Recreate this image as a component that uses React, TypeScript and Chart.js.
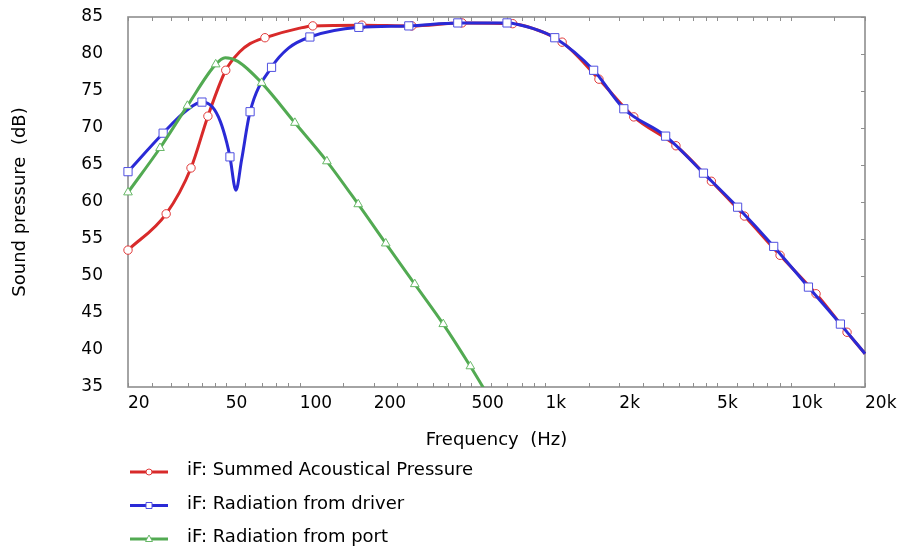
import { useEffect, useRef } from "react";
import { Chart, registerables } from "chart.js";

Chart.register(...registerables);

// ---- Data (frequency in Hz, level in dB) ----
const summedFreq = [20, 28.6, 36.1, 42.3, 50, 57, 62.8, 72.2, 100, 113, 179, 286, 458, 736, 900, 1170, 1652, 2290, 3400, 4740, 6460, 9020, 12640, 16900, 20000];
const summedDb = [53.5, 58.4, 64.6, 71.6, 77.8, 80.3, 81.4, 82.2, 83.5, 83.8, 83.9, 83.8, 84.2, 84.1, 83.4, 81.6, 76.6, 71.5, 67.6, 62.8, 58.1, 52.8, 47.6, 42.4, 39.5];
const summedMarkerFreq = [20, 28.6, 36.1, 42.3, 50, 72.2, 113, 179, 286, 458, 736, 1170, 1652, 2290, 3400, 4740, 6460, 9020, 12640, 16900];

const driverFreq = [20, 27.8, 34.7, 40, 44.2, 47.5, 50.5, 52, 55, 58, 62.8, 76.8, 90, 110, 174, 278, 440, 698, 900, 1092, 1572, 2086, 3087, 4400, 6060, 8500, 11770, 15880, 20000];
const driverDb = [64.1, 69.3, 72.4, 73.5, 72.8, 70.9, 68.0, 66.1, 61.6, 65.7, 72.2, 78.2, 80.8, 82.3, 83.6, 83.8, 84.2, 84.2, 83.4, 82.2, 77.8, 72.6, 68.9, 63.9, 59.3, 54.0, 48.5, 43.5, 39.5];
const driverMarkerFreq = [20, 27.8, 40, 52, 62.8, 76.8, 110, 174, 278, 440, 698, 1092, 1572, 2086, 3087, 4400, 6060, 8500, 11770, 15880];

const portFreq = [20, 27, 34.9, 45.5, 49.7, 56, 70, 95.6, 129, 173, 224, 294, 384, 495, 600];
const portDb = [61.3, 67.3, 73.0, 78.6, 79.5, 79.0, 76.1, 70.7, 65.5, 59.7, 54.4, 48.9, 43.5, 37.8, 33.2];
const portMarkerFreq = [20, 27, 34.9, 45.5, 70, 95.6, 129, 173, 224, 294, 384, 495];

const seriesNames = ["iF: Summed Acoustical Pressure", "iF: Radiation from driver", "iF: Radiation from port"];

// ---- Axis ticks ----
const xMajorTicks = [20, 50, 100, 200, 500, 1000, 2000, 5000, 10000, 20000];
const xMajorLabels = ["20", "50", "100", "200", "500", "1k", "2k", "5k", "10k", "20k"];
const xMinorTicks = [25, 30, 35, 40, 45, 60, 70, 80, 90, 150, 250, 300, 350, 400, 450, 600, 700, 800, 900, 1500, 2500, 3000, 3500, 4000, 4500, 6000, 7000, 8000, 9000, 15000];
const yTicks = [35, 40, 45, 50, 55, 60, 65, 70, 75, 80, 85];

const RED = "#d82a2a";
const BLUE = "#2a2ad6";
const GREEN = "#52aa52";
const RED_M = "#e03a3a";
const BLUE_M = "#5050e0";
const GREEN_M = "#68b868";
const FONT = "'DejaVu Sans', Verdana, sans-serif";

function pts(f: number[], v: number[]) {
  return f.map((x, i) => ({ x, y: v[i] }));
}
function radii(f: number[], m: number[], r: number) {
  return f.map((x) => (m.includes(x) ? r : 0));
}

const framePlugin = {
  id: "frame",
  beforeDatasetsDraw(chart: any) {
    const { ctx, chartArea: a, scales } = chart;
    ctx.save();
    ctx.strokeStyle = "#8e8e8e";
    ctx.lineWidth = 1;
    const tl = 4;
    ctx.beginPath();
    for (const v of [...xMajorTicks, ...xMinorTicks]) {
      const px = Math.round(scales.x.getPixelForValue(v)) + 0.5;
      ctx.moveTo(px, a.top);
      ctx.lineTo(px, a.top + tl);
      ctx.moveTo(px, a.bottom);
      ctx.lineTo(px, a.bottom - tl);
    }
    for (const v of yTicks) {
      const py = Math.round(scales.y.getPixelForValue(v)) + 0.5;
      ctx.moveTo(a.right, py);
      ctx.lineTo(a.right - tl, py);
    }
    ctx.stroke();
    ctx.lineWidth = 1.6;
    ctx.strokeRect(a.left, a.top, a.right - a.left, a.bottom - a.top);
    ctx.restore();
  },
};

const legendPlugin = {
  id: "customLegend",
  afterDraw(chart: any) {
    const { ctx } = chart;
    const rows = [
      { name: seriesNames[0], color: RED, mcolor: RED_M, shape: "circle", y: 472 },
      { name: seriesNames[1], color: BLUE, mcolor: BLUE_M, shape: "rect", y: 505.5 },
      { name: seriesNames[2], color: GREEN, mcolor: GREEN_M, shape: "triangle", y: 539 },
    ];
    ctx.save();
    for (const r of rows) {
      ctx.strokeStyle = r.color;
      ctx.lineWidth = 3;
      ctx.beginPath();
      ctx.moveTo(130, r.y);
      ctx.lineTo(168, r.y);
      ctx.stroke();
      ctx.fillStyle = "#ffffff";
      ctx.strokeStyle = r.mcolor;
      ctx.lineWidth = 1;
      const cx = 149;
      ctx.beginPath();
      if (r.shape === "circle") {
        ctx.arc(cx, r.y, 3, 0, Math.PI * 2);
      } else if (r.shape === "rect") {
        ctx.rect(cx - 3, r.y - 3, 6, 6);
      } else {
        ctx.moveTo(cx, r.y - 4);
        ctx.lineTo(cx + 3.5, r.y + 2.5);
        ctx.lineTo(cx - 3.5, r.y + 2.5);
        ctx.closePath();
      }
      ctx.fill();
      ctx.stroke();
      ctx.fillStyle = "#000";
      ctx.font = `18px ${FONT}`;
      ctx.textBaseline = "alphabetic";
      ctx.textAlign = "left";
      ctx.fillText(r.name, 187, r.y + 3);
    }
    ctx.restore();
  },
};

export default function App() {
  const ref = useRef<HTMLCanvasElement | null>(null);
  useEffect(() => {
    document.body.style.margin = "0";
    const canvas = ref.current;
    if (!canvas) return;
    const common = {
      borderWidth: 3,
      pointBorderWidth: 1,
      pointBackgroundColor: "#ffffff",
      pointHoverRadius: 0,
      cubicInterpolationMode: "monotone" as const,
      clip: { left: 12, right: 12, top: 12, bottom: 0 },
    };
    const chart = new Chart(canvas, {
      type: "line",
      data: {
        datasets: [
          {
            ...common,
            label: seriesNames[2],
            data: pts(portFreq, portDb),
            borderColor: GREEN,
            pointBorderColor: GREEN_M,
            pointStyle: "triangle",
            pointRadius: radii(portFreq, portMarkerFreq, 5),
            order: 0,
          },
          {
            ...common,
            label: seriesNames[1],
            data: pts(driverFreq, driverDb),
            borderColor: BLUE,
            pointBorderColor: BLUE_M,
            pointStyle: "rect",
            pointRadius: radii(driverFreq, driverMarkerFreq, 5.8),
            order: 1,
          },
          {
            ...common,
            label: seriesNames[0],
            data: pts(summedFreq, summedDb),
            borderColor: RED,
            pointBorderColor: RED_M,
            pointStyle: "circle",
            pointRadius: radii(summedFreq, summedMarkerFreq, 4.2),
            order: 2,
          },
        ],
      },
      options: {
        responsive: false,
        animation: false,
        events: [],
        layout: { padding: { left: 0, top: 17, right: 35, bottom: 93 } },
        plugins: { legend: { display: false }, tooltip: { enabled: false } },
        scales: {
          x: {
            type: "logarithmic",
            min: 20,
            max: 20000,
            grid: { display: false },
            border: { display: false },
            afterBuildTicks: (s: any) => {
              s.ticks = xMajorTicks.map((v) => ({ value: v }));
            },
            afterFit: (s: any) => {
              s.height = 68;
              s.paddingLeft = 0;
              s.paddingRight = 0;
            },
            ticks: {
              autoSkip: false,
              maxRotation: 0,
              align: "start",
              padding: -2,
              color: "#000",
              font: { family: FONT, size: 17 },
              callback: (v: any) => {
                const i = xMajorTicks.indexOf(Number(v));
                return i >= 0 ? xMajorLabels[i] : "";
              },
            },
            title: {
              display: true,
              text: "Frequency  (Hz)",
              color: "#000",
              font: { family: FONT, size: 18 },
              padding: { top: 0, bottom: 4 },
            },
          },
          y: {
            min: 35,
            max: 85,
            grid: { display: false },
            border: { display: false },
            afterBuildTicks: (s: any) => {
              s.ticks = yTicks.map((v) => ({ value: v }));
            },
            afterFit: (s: any) => {
              s.width = 128;
              s.paddingTop = 0;
              s.paddingBottom = 0;
            },
            ticks: {
              padding: 17,
              color: "#000",
              font: { family: FONT, size: 17 },
            },
            title: {
              display: true,
              text: "Sound pressure  (dB)",
              color: "#000",
              font: { family: FONT, size: 18 },
              padding: { top: 10, bottom: 0 },
            },
          },
        },
      },
      plugins: [framePlugin, legendPlugin],
    } as any);
    return () => chart.destroy();
  }, []);
  return <canvas ref={ref} width={900} height={548} style={{ display: "block" }} />;
}
